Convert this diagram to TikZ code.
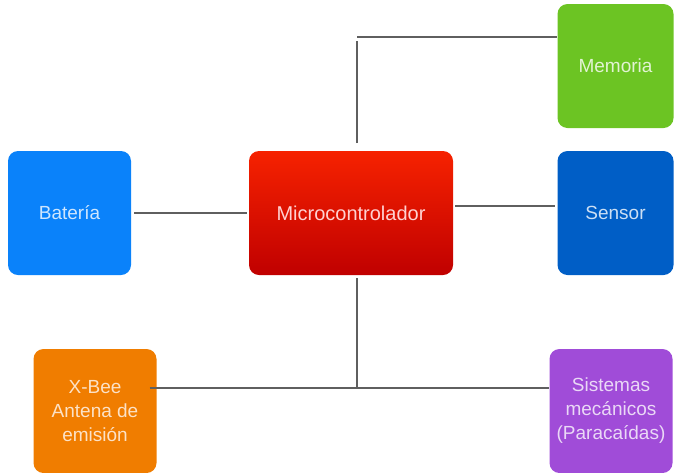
\documentclass[tikz,border=0pt]{standalone}
\usepackage{fontspec}
\setmainfont{Liberation Sans}
\definecolor{batblue}{RGB}{10,130,250}
\definecolor{memgreen}{RGB}{108,196,35}
\definecolor{senblue}{RGB}{0,94,198}
\definecolor{xorange}{RGB}{240,125,0}
\definecolor{sispurple}{RGB}{160,76,216}
\definecolor{redtop}{RGB}{246,34,0}
\definecolor{redbot}{RGB}{192,0,0}
\definecolor{wire}{RGB}{95,95,95}
\tikzset{
  block/.style={rounded corners=10pt, inner sep=0pt, align=center,
    minimum width=123pt, minimum height=124pt,
    font=\fontsize{19}{24}\selectfont},
  wireline/.style={draw=wire, line width=2.2pt}
}
\begin{document}
\begin{tikzpicture}[x=1pt,y=-1pt]
\useasboundingbox (0,0) rectangle (674,472);
% component blocks
\node[block, fill=batblue, text=white!80!batblue] (bat) at (69.5,213) {Batería};
\node[block, minimum width=204pt, top color=redtop, bottom color=redbot,
      text=white!82!red, font=\fontsize{20}{24}\selectfont] (mic) at (351,213) {Microcontrolador};
\node[block, minimum width=116pt, fill=memgreen, text=white!80!memgreen] (mem) at (615.5,66) {Memoria};
\node[block, minimum width=116pt, fill=senblue, text=white!80!senblue] (sen) at (615.5,213) {Sensor};
\node[block, fill=xorange, text=white!78!xorange] (xb) at (95,411) {X-Bee\\Antena de\\emisión};
\node[block, fill=sispurple, text=white!78!sispurple] (sis) at (611,411) {Sistemas\\mecánicos\\(Paracaídas)};
% junction points of the wiring
\coordinate (mtop) at (357,143);
\coordinate (mcorner) at (357,37);
\coordinate (mbot) at (357,278);
\coordinate (bjunc) at (357,388);
% connectors
\draw[wireline] ([xshift=3pt]bat.east) -- ([xshift=-2pt]mic.west);
\draw[wireline] ([xshift=2pt,yshift=7pt]mic.east) -- ([xshift=-2pt,yshift=7pt]sen.west);
\draw[wireline] (mtop) -- ([yshift=-4pt]mcorner);
\draw[wireline] (mcorner) -- (mcorner -| mem.west);
\draw[wireline] (mbot) -- (bjunc);
\draw[wireline] ([xshift=-7pt]xb.east |- bjunc) -- (bjunc -| sis.west);
\end{tikzpicture}
\end{document}
